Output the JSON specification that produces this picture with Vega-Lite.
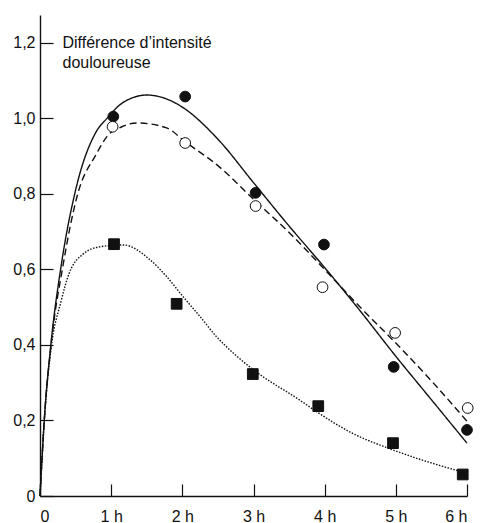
{
  "$schema": "https://vega.github.io/schema/vega-lite/v6.json",
  "width": 427,
  "height": 481,
  "autosize": {"type": "none"},
  "padding": {"left": 40, "top": 15, "right": 13, "bottom": 27},
  "background": "white",
  "config": {
    "view": {"stroke": null},
    "font": "Liberation Sans",
    "axis": {
      "grid": false,
      "domainColor": "#111",
      "domainWidth": 1.4,
      "tickColor": "#111",
      "tickWidth": 1.2,
      "labelFont": "Liberation Sans",
      "labelFontSize": 16,
      "labelColor": "#111"
    }
  },
  "datasets": {
    "curves": [
      {"curve": "A", "t": 0, "v": 0}, {"curve": "A", "t": 0.02, "v": 0.07}, {"curve": "A", "t": 0.06, "v": 0.2},
      {"curve": "A", "t": 0.155, "v": 0.405}, {"curve": "A", "t": 0.295, "v": 0.607}, {"curve": "A", "t": 0.5, "v": 0.81},
      {"curve": "A", "t": 0.79, "v": 0.965}, {"curve": "A", "t": 0.94, "v": 1.0}, {"curve": "A", "t": 1.15, "v": 1.04},
      {"curve": "A", "t": 1.5, "v": 1.062}, {"curve": "A", "t": 1.8, "v": 1.05}, {"curve": "A", "t": 2.0, "v": 1.03},
      {"curve": "A", "t": 2.5, "v": 0.945}, {"curve": "A", "t": 3.0, "v": 0.83}, {"curve": "A", "t": 3.5, "v": 0.715},
      {"curve": "A", "t": 4.0, "v": 0.605}, {"curve": "A", "t": 4.5, "v": 0.49}, {"curve": "A", "t": 5.0, "v": 0.37},
      {"curve": "A", "t": 5.5, "v": 0.255}, {"curve": "A", "t": 6.0, "v": 0.14},
      {"curve": "B", "t": 0, "v": 0}, {"curve": "B", "t": 0.02, "v": 0.07}, {"curve": "B", "t": 0.06, "v": 0.2},
      {"curve": "B", "t": 0.155, "v": 0.4}, {"curve": "B", "t": 0.32, "v": 0.607}, {"curve": "B", "t": 0.53, "v": 0.8},
      {"curve": "B", "t": 0.79, "v": 0.905}, {"curve": "B", "t": 0.94, "v": 0.952}, {"curve": "B", "t": 1.15, "v": 0.978},
      {"curve": "B", "t": 1.36, "v": 0.988}, {"curve": "B", "t": 1.78, "v": 0.975}, {"curve": "B", "t": 2.04, "v": 0.938},
      {"curve": "B", "t": 2.5, "v": 0.875}, {"curve": "B", "t": 3.0, "v": 0.786}, {"curve": "B", "t": 3.5, "v": 0.698},
      {"curve": "B", "t": 4.0, "v": 0.6}, {"curve": "B", "t": 4.5, "v": 0.5}, {"curve": "B", "t": 5.0, "v": 0.405},
      {"curve": "B", "t": 5.5, "v": 0.305}, {"curve": "B", "t": 6.0, "v": 0.198},
      {"curve": "C", "t": 0, "v": 0}, {"curve": "C", "t": 0.02, "v": 0.07}, {"curve": "C", "t": 0.06, "v": 0.2},
      {"curve": "C", "t": 0.155, "v": 0.39}, {"curve": "C", "t": 0.295, "v": 0.515}, {"curve": "C", "t": 0.41, "v": 0.59},
      {"curve": "C", "t": 0.6, "v": 0.64}, {"curve": "C", "t": 0.84, "v": 0.66}, {"curve": "C", "t": 1.17, "v": 0.665},
      {"curve": "C", "t": 1.55, "v": 0.625}, {"curve": "C", "t": 1.78, "v": 0.581}, {"curve": "C", "t": 2.01, "v": 0.528},
      {"curve": "C", "t": 2.25, "v": 0.475}, {"curve": "C", "t": 2.48, "v": 0.422}, {"curve": "C", "t": 2.72, "v": 0.378},
      {"curve": "C", "t": 3.0, "v": 0.334}, {"curve": "C", "t": 3.65, "v": 0.254}, {"curve": "C", "t": 3.89, "v": 0.223},
      {"curve": "C", "t": 4.36, "v": 0.169}, {"curve": "C", "t": 4.96, "v": 0.122}, {"curve": "C", "t": 6.0, "v": 0.06}
    ],
    "points": [
      {"series": "filled", "t": 1.03, "v": 1.005}, {"series": "filled", "t": 2.04, "v": 1.058},
      {"series": "filled", "t": 3.03, "v": 0.803}, {"series": "filled", "t": 3.99, "v": 0.666},
      {"series": "filled", "t": 4.97, "v": 0.342}, {"series": "filled", "t": 6.0, "v": 0.175},
      {"series": "open", "t": 1.02, "v": 0.978}, {"series": "open", "t": 2.04, "v": 0.935},
      {"series": "open", "t": 3.03, "v": 0.768}, {"series": "open", "t": 3.97, "v": 0.553},
      {"series": "open", "t": 4.99, "v": 0.432}, {"series": "open", "t": 6.01, "v": 0.233},
      {"series": "square", "t": 1.04, "v": 0.667}, {"series": "square", "t": 1.92, "v": 0.509},
      {"series": "square", "t": 2.99, "v": 0.323}, {"series": "square", "t": 3.91, "v": 0.238},
      {"series": "square", "t": 4.96, "v": 0.14}, {"series": "square", "t": 5.94, "v": 0.057}
    ]
  },
  "encoding": {
    "x": {
      "field": "t", "type": "quantitative",
      "scale": {"domain": [0, 6], "nice": false, "zero": true},
      "axis": {
        "title": null,
        "values": [0, 1, 2, 3, 4, 5, 6],
        "tickSize": -12,
        "labelPadding": 24,
        "labelExpr": "datum.value == 0 ? '0' : datum.value + ' h'"
      }
    },
    "y": {
      "field": "v", "type": "quantitative",
      "scale": {"domain": [0, 1.274], "nice": false},
      "axis": {
        "values": [0, 0.2, 0.4, 0.6, 0.8, 1.0, 1.2],
        "tickSize": -13,
        "labelPadding": 18,
        "labelExpr": "datum.value == 0 ? '0' : replace(format(datum.value, '.1f'), '.', ',')",
        "title": ["Différence d’intensité", "douloureuse"],
        "titleAngle": 0,
        "titleAlign": "left",
        "titleBaseline": "alphabetic",
        "titleX": 22,
        "titleY": 32,
        "titleFont": "Liberation Sans",
        "titleFontSize": 16,
        "titleFontWeight": "normal",
        "titleLineHeight": 20,
        "titleColor": "#111"
      }
    }
  },
  "layer": [
    {
      "data": {"name": "curves"},
      "mark": {"type": "line", "interpolate": "monotone", "color": "#111", "strokeWidth": 1.4},
      "encoding": {
        "detail": {"field": "curve"},
        "strokeDash": {
          "field": "curve", "type": "nominal",
          "scale": {"domain": ["A", "B", "C"], "range": [[1, 0], [7, 4], [1.5, 1.5]]},
          "legend": null
        }
      }
    },
    {
      "data": {"name": "points"},
      "mark": {"type": "point", "stroke": "#111", "strokeWidth": 1, "opacity": 1},
      "encoding": {
        "shape": {
          "field": "series", "type": "nominal",
          "scale": {"domain": ["filled", "open", "square"], "range": ["circle", "circle", "square"]},
          "legend": null
        },
        "fill": {
          "field": "series", "type": "nominal",
          "scale": {"domain": ["filled", "open", "square"], "range": ["#111", "white", "#111"]},
          "legend": null
        },
        "size": {
          "field": "series", "type": "nominal",
          "scale": {"domain": ["filled", "open", "square"], "range": [115, 115, 130]},
          "legend": null
        }
      }
    }
  ]
}
